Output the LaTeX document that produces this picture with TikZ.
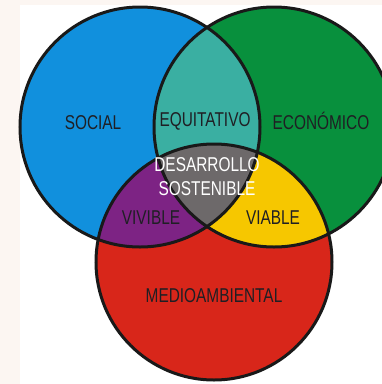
\documentclass[tikz,border=0pt]{standalone}
\usepackage{fontspec}
\setmainfont{Liberation Sans}[FakeStretch=0.77]
\usetikzlibrary{positioning}
\definecolor{social}{HTML}{1190DD}
\definecolor{economico}{HTML}{08903D}
\definecolor{ambiental}{HTML}{D8261A}
\definecolor{equitativo}{HTML}{3AAFA2}
\definecolor{vivible}{HTML}{7D2384}
\definecolor{viable}{HTML}{F6C700}
\definecolor{sostenible}{HTML}{6D696A}
\definecolor{margen}{HTML}{FCF6F2}
\definecolor{letra}{HTML}{1F1F24}

\begin{document}
\begin{tikzpicture}[x=1pt, y=-1pt,
    set/.style={circle, minimum size=240pt, inner sep=0pt},
    lbl/.style={text=letra, font=\fontsize{20}{22}\selectfont, inner sep=0pt},
    rim/.style={draw=black!90, line width=3pt}]
      \useasboundingbox (0,0) rectangle (382,384);
      \fill[margen] (0,0) rectangle (382,384);
      \fill[white] (20,5) rectangle (382,384);
      % Define nodes
      \node[set] (soc) at (140,127) {};
      \node[set] (eco) at (274,127) {};
      \node[set, minimum size=236pt] (amb) at (214,262) {};
      % Fill the sets
      \fill[social] (soc.center) circle[radius=120pt];
      \fill[economico] (eco.center) circle[radius=120pt];
      \fill[ambiental] (amb.center) circle[radius=118pt];
      \begin{scope}
        \clip (soc.center) circle[radius=120pt];
        \fill[equitativo] (eco.center) circle[radius=120pt];
        \fill[vivible] (amb.center) circle[radius=118pt];
        \clip (eco.center) circle[radius=120pt];
        \fill[sostenible] (amb.center) circle[radius=118pt];
      \end{scope}
      \begin{scope}
        \clip (eco.center) circle[radius=120pt];
        \clip (amb.center) circle[radius=118pt];
        \fill[viable, even odd rule] (soc.center) circle[radius=120pt] (0,0) rectangle (400,400);
      \end{scope}
      % Outlines
      \draw[rim] (soc.center) circle[radius=120pt];
      \draw[rim] (eco.center) circle[radius=120pt];
      \draw[rim] (amb.center) circle[radius=118pt];
      % Labels
      \node[lbl] (social) at (93,123) {SOCIAL};
      \node[lbl] (equit) at (205,121) {EQUITATIVO};
      \node[lbl] (econ) at (321,121) {ECONÓMICO};
      \node[lbl, text=white] (desa) at (207,165) {DESARROLLO};
      \node[lbl, text=white] (sost) at (207,189) {SOSTENIBLE};
      \node[lbl] (viv) at (151,218) {VIVIBLE};
      \node[lbl] (via) at (273,218) {VIABLE};
      \node[lbl] (medio) at (214,296) {MEDIOAMBIENTAL};
    \end{tikzpicture}
\end{document}
